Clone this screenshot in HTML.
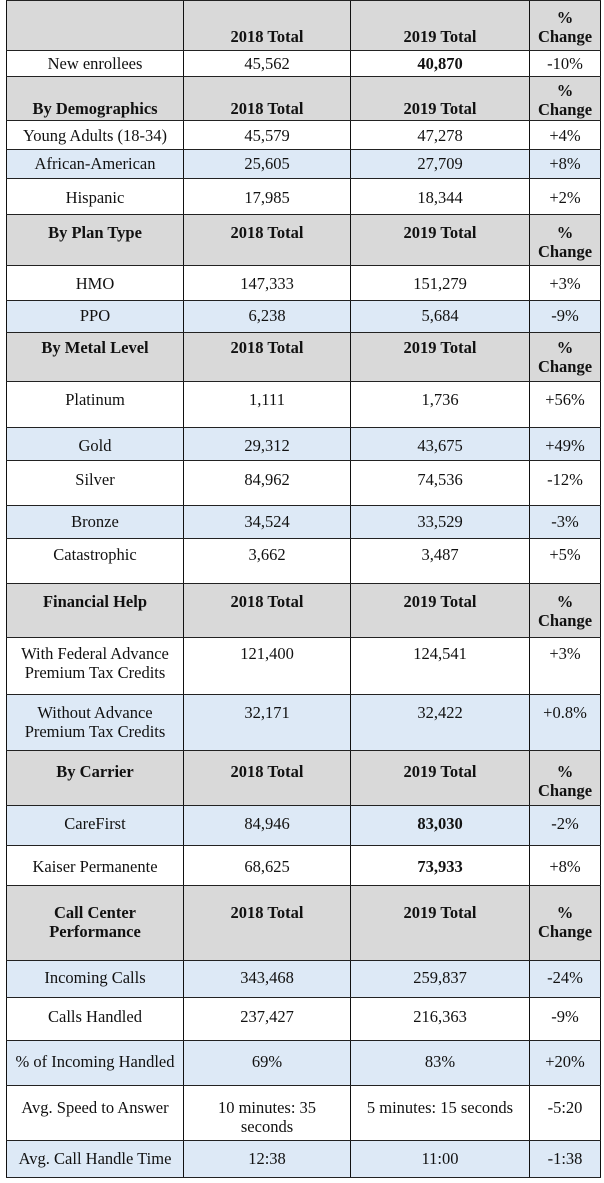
<!DOCTYPE html>
<html><head><meta charset="utf-8"><style>
body{margin:0;width:604px;height:1183px;background:#fff;position:relative;overflow:hidden;font-family:"Liberation Serif",serif;font-size:16.5px;color:#111}
.r{position:absolute;left:6px;width:595px;border-top:1px solid #222;box-sizing:border-box}
.g{background:#d9d9d9;font-weight:bold}
.b{background:#dde9f6}
.c{position:absolute;top:0;bottom:0;border-left:1px solid #111;box-sizing:border-box}
.c1{left:0;width:177px}.c2{left:177px;width:167px}.c3{left:344px;width:179px}.c4{left:523px;width:72px;border-right:1px solid #111}
.t{position:absolute;left:0;right:0;text-align:center;line-height:19px;white-space:nowrap}
</style></head><body>

<div class="r g" style="top:0;height:50px"><div class="c c1"></div><div class="c c2"><div class="t" style="top:26px">2018 Total</div></div><div class="c c3"><div class="t" style="top:26px">2019 Total</div></div><div class="c c4"><div class="t" style="top:7px">%<br>Change</div></div></div>

<div class="r" style="top:50px;height:26px"><div class="c c1"><div class="t" style="top:3px">New enrollees</div></div><div class="c c2"><div class="t" style="top:3px">45,562</div></div><div class="c c3"><div class="t" style="top:3px"><b>40,870</b></div></div><div class="c c4"><div class="t" style="top:3px">-10%</div></div></div>

<div class="r g" style="top:76px;height:44px"><div class="c c1"><div class="t" style="top:22px">By Demographics</div></div><div class="c c2"><div class="t" style="top:22px">2018 Total</div></div><div class="c c3"><div class="t" style="top:22px">2019 Total</div></div><div class="c c4"><div class="t" style="top:4px">%<br>Change</div></div></div>

<div class="r" style="top:120px;height:29px"><div class="c c1"><div class="t" style="top:5px">Young Adults (18-34)</div></div><div class="c c2"><div class="t" style="top:5px">45,579</div></div><div class="c c3"><div class="t" style="top:5px">47,278</div></div><div class="c c4"><div class="t" style="top:5px">+4%</div></div></div>

<div class="r b" style="top:149px;height:29px"><div class="c c1"><div class="t" style="top:4px">African-American</div></div><div class="c c2"><div class="t" style="top:4px">25,605</div></div><div class="c c3"><div class="t" style="top:4px">27,709</div></div><div class="c c4"><div class="t" style="top:4px">+8%</div></div></div>

<div class="r" style="top:178px;height:36px"><div class="c c1"><div class="t" style="top:9px">Hispanic</div></div><div class="c c2"><div class="t" style="top:9px">17,985</div></div><div class="c c3"><div class="t" style="top:9px">18,344</div></div><div class="c c4"><div class="t" style="top:9px">+2%</div></div></div>

<div class="r g" style="top:214px;height:51px"><div class="c c1"><div class="t" style="top:8px">By Plan Type</div></div><div class="c c2"><div class="t" style="top:8px">2018 Total</div></div><div class="c c3"><div class="t" style="top:8px">2019 Total</div></div><div class="c c4"><div class="t" style="top:8px">%<br>Change</div></div></div>

<div class="r" style="top:265px;height:35px"><div class="c c1"><div class="t" style="top:8px">HMO</div></div><div class="c c2"><div class="t" style="top:8px">147,333</div></div><div class="c c3"><div class="t" style="top:8px">151,279</div></div><div class="c c4"><div class="t" style="top:8px">+3%</div></div></div>

<div class="r b" style="top:300px;height:32px"><div class="c c1"><div class="t" style="top:5px">PPO</div></div><div class="c c2"><div class="t" style="top:5px">6,238</div></div><div class="c c3"><div class="t" style="top:5px">5,684</div></div><div class="c c4"><div class="t" style="top:5px">-9%</div></div></div>

<div class="r g" style="top:332px;height:49px"><div class="c c1"><div class="t" style="top:5px">By Metal Level</div></div><div class="c c2"><div class="t" style="top:5px">2018 Total</div></div><div class="c c3"><div class="t" style="top:5px">2019 Total</div></div><div class="c c4"><div class="t" style="top:5px">%<br>Change</div></div></div>

<div class="r" style="top:381px;height:46px"><div class="c c1"><div class="t" style="top:8px">Platinum</div></div><div class="c c2"><div class="t" style="top:8px">1,111</div></div><div class="c c3"><div class="t" style="top:8px">1,736</div></div><div class="c c4"><div class="t" style="top:8px">+56%</div></div></div>

<div class="r b" style="top:427px;height:33px"><div class="c c1"><div class="t" style="top:8px">Gold</div></div><div class="c c2"><div class="t" style="top:8px">29,312</div></div><div class="c c3"><div class="t" style="top:8px">43,675</div></div><div class="c c4"><div class="t" style="top:8px">+49%</div></div></div>

<div class="r" style="top:460px;height:45px"><div class="c c1"><div class="t" style="top:9px">Silver</div></div><div class="c c2"><div class="t" style="top:9px">84,962</div></div><div class="c c3"><div class="t" style="top:9px">74,536</div></div><div class="c c4"><div class="t" style="top:9px">-12%</div></div></div>

<div class="r b" style="top:505px;height:33px"><div class="c c1"><div class="t" style="top:6px">Bronze</div></div><div class="c c2"><div class="t" style="top:6px">34,524</div></div><div class="c c3"><div class="t" style="top:6px">33,529</div></div><div class="c c4"><div class="t" style="top:6px">-3%</div></div></div>

<div class="r" style="top:538px;height:45px"><div class="c c1"><div class="t" style="top:6px">Catastrophic</div></div><div class="c c2"><div class="t" style="top:6px">3,662</div></div><div class="c c3"><div class="t" style="top:6px">3,487</div></div><div class="c c4"><div class="t" style="top:6px">+5%</div></div></div>

<div class="r g" style="top:583px;height:54px"><div class="c c1"><div class="t" style="top:8px">Financial Help</div></div><div class="c c2"><div class="t" style="top:8px">2018 Total</div></div><div class="c c3"><div class="t" style="top:8px">2019 Total</div></div><div class="c c4"><div class="t" style="top:8px">%<br>Change</div></div></div>

<div class="r" style="top:637px;height:57px"><div class="c c1"><div class="t" style="top:6px">With Federal Advance<br>Premium Tax Credits</div></div><div class="c c2"><div class="t" style="top:6px">121,400</div></div><div class="c c3"><div class="t" style="top:6px">124,541</div></div><div class="c c4"><div class="t" style="top:6px">+3%</div></div></div>

<div class="r b" style="top:694px;height:56px"><div class="c c1"><div class="t" style="top:8px">Without Advance<br>Premium Tax Credits</div></div><div class="c c2"><div class="t" style="top:8px">32,171</div></div><div class="c c3"><div class="t" style="top:8px">32,422</div></div><div class="c c4"><div class="t" style="top:8px">+0.8%</div></div></div>

<div class="r g" style="top:750px;height:55px"><div class="c c1"><div class="t" style="top:11px">By Carrier</div></div><div class="c c2"><div class="t" style="top:11px">2018 Total</div></div><div class="c c3"><div class="t" style="top:11px">2019 Total</div></div><div class="c c4"><div class="t" style="top:11px">%<br>Change</div></div></div>

<div class="r b" style="top:805px;height:40px"><div class="c c1"><div class="t" style="top:8px">CareFirst</div></div><div class="c c2"><div class="t" style="top:8px">84,946</div></div><div class="c c3"><div class="t" style="top:8px"><b>83,030</b></div></div><div class="c c4"><div class="t" style="top:8px">-2%</div></div></div>

<div class="r" style="top:845px;height:40px"><div class="c c1"><div class="t" style="top:11px">Kaiser Permanente</div></div><div class="c c2"><div class="t" style="top:11px">68,625</div></div><div class="c c3"><div class="t" style="top:11px"><b>73,933</b></div></div><div class="c c4"><div class="t" style="top:11px">+8%</div></div></div>

<div class="r g" style="top:885px;height:75px"><div class="c c1"><div class="t" style="top:17px">Call Center<br>Performance</div></div><div class="c c2"><div class="t" style="top:17px">2018 Total</div></div><div class="c c3"><div class="t" style="top:17px">2019 Total</div></div><div class="c c4"><div class="t" style="top:17px">%<br>Change</div></div></div>

<div class="r b" style="top:960px;height:37px"><div class="c c1"><div class="t" style="top:7px">Incoming Calls</div></div><div class="c c2"><div class="t" style="top:7px">343,468</div></div><div class="c c3"><div class="t" style="top:7px">259,837</div></div><div class="c c4"><div class="t" style="top:7px">-24%</div></div></div>

<div class="r" style="top:997px;height:43px"><div class="c c1"><div class="t" style="top:9px">Calls Handled</div></div><div class="c c2"><div class="t" style="top:9px">237,427</div></div><div class="c c3"><div class="t" style="top:9px">216,363</div></div><div class="c c4"><div class="t" style="top:9px">-9%</div></div></div>

<div class="r b" style="top:1040px;height:45px"><div class="c c1"><div class="t" style="top:11px">% of Incoming Handled</div></div><div class="c c2"><div class="t" style="top:11px">69%</div></div><div class="c c3"><div class="t" style="top:11px">83%</div></div><div class="c c4"><div class="t" style="top:11px">+20%</div></div></div>

<div class="r" style="top:1085px;height:55px"><div class="c c1"><div class="t" style="top:12px">Avg. Speed to Answer</div></div><div class="c c2"><div class="t" style="top:12px">10 minutes: 35<br>seconds</div></div><div class="c c3"><div class="t" style="top:12px">5 minutes: 15 seconds</div></div><div class="c c4"><div class="t" style="top:12px">-5:20</div></div></div>

<div class="r b" style="top:1140px;height:38px;border-bottom:1px solid #222"><div class="c c1"><div class="t" style="top:8px">Avg. Call Handle Time</div></div><div class="c c2"><div class="t" style="top:8px">12:38</div></div><div class="c c3"><div class="t" style="top:8px">11:00</div></div><div class="c c4"><div class="t" style="top:8px">-1:38</div></div></div>

</body></html>
